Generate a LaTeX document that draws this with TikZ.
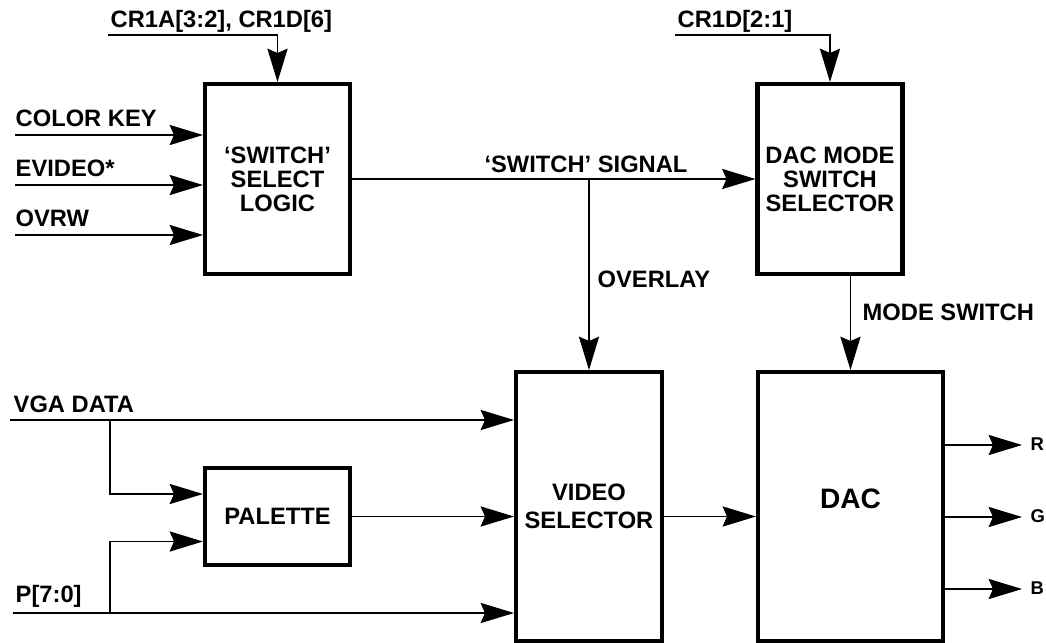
\documentclass[tikz,border=0pt]{standalone}
\usepackage{fontspec}
\setmainfont{Liberation Sans}
\usetikzlibrary{arrows.meta}

\begin{document}
\begin{tikzpicture}[x=.02cm,y=-.02cm,line width=.8pt,font=\fontsize{13.5}{15.5}\selectfont\bfseries,
  blk/.style={draw,line width=2.3pt,align=center,inner sep=0pt,font=\fontsize{13.5}{13.6}\selectfont\bfseries},
  arr/.style={-{Stealth[length=19pt,width=11.5pt,inset=2.5pt]}},
  lbl/.style={anchor=base west,inner sep=0pt}]
\useasboundingbox (0,0) rectangle (1046,643);
\node[blk,minimum width=2.9cm,minimum height=3.8cm] (sw) at (277.5,179) {‘SWITCH’\\SELECT\\LOGIC};
\node[blk,minimum width=2.9cm,minimum height=3.8cm] (dms) at (830,179) {DAC MODE\\SWITCH\\SELECTOR};
\node[blk,minimum width=2.9cm,minimum height=1.94cm] (pal) at (277.5,516.5) {PALETTE};
\node[blk,minimum width=2.92cm,minimum height=5.38cm,font=\fontsize{13.5}{16}\selectfont\bfseries] (vs) at (589,506.5) {VIDEO\\SELECTOR};
\node[blk,minimum width=3.7cm,minimum height=5.38cm,font=\fontsize{16}{19}\selectfont\bfseries] (dac) at (850.5,506.5) {\raisebox{9pt}{DAC}};
\coordinate (cra) at (108,35);
\coordinate (crd) at (675,35);
\coordinate (ck) at (15,135);
\coordinate (ev) at (15,185);
\coordinate (ow) at (15,235);
\coordinate (vga) at (10,420);
\coordinate (pin) at (13,613);
\coordinate (vgab) at (110,420);
\coordinate (pinb) at (110,613);
\coordinate (r) at (1022,445);
\coordinate (g) at (1022,517);
\coordinate (b) at (1022,589);
\draw[arr] (cra) -| (sw.north);
\draw[arr] (crd) -| (dms.north);
\draw[arr] (ck) -- (ck -| sw.west);
\draw[arr] (ev) -- (ev -| sw.west);
\draw[arr] (ow) -- (ow -| sw.west);
\draw[arr] (sw.east) -- (dms.west);
\draw[arr] (sw.east -| vs.north) -- (vs.north);
\draw[arr] (dac.north |- dms.south) -- (dac.north);
\draw[arr] (vga) -- (vga -| vs.west);
\draw[arr] (pin) -- (pin -| vs.west);
\draw[arr] (vgab) |- ([yshift=.45cm]pal.west);
\draw[arr] (pinb) |- ([yshift=-.5cm]pal.west);
\draw[arr] (pal.east) -- (pal.east -| vs.west);
\draw[arr] (pal.east -| vs.east) -- (pal.east -| dac.west);
\draw[arr] (r -| dac.east) -- (r);
\draw[arr] (g -| dac.east) -- (g);
\draw[arr] (b -| dac.east) -- (b);
\node[lbl] (tcra) at (110,27) {CR1A[3:2], CR1D[6]};
\node[lbl] (tcrd) at (677,27) {CR1D[2:1]};
\node[lbl] (tck) at (15,126) {COLOR KEY};
\node[lbl] (tev) at (15,176) {EVIDEO*};
\node[lbl] (tow) at (15,226) {OVRW};
\node[anchor=base,inner sep=0pt] (tsig) at (586,172) {‘SWITCH’ SIGNAL};
\node[lbl] (tov) at (597,287) {OVERLAY};
\node[lbl] (tms) at (862,320) {MODE SWITCH};
\node[lbl] (tvga) at (13,412) {VGA DATA};
\node[lbl] (tpin) at (15,602) {P[7:0]};
\node[lbl,font=\fontsize{10.5}{12}\selectfont\bfseries] (tr) at (1030,450) {R};
\node[lbl,font=\fontsize{10.5}{12}\selectfont\bfseries] (tg) at (1030,522) {G};
\node[lbl,font=\fontsize{10.5}{12}\selectfont\bfseries] (tb) at (1030,594) {B};
\end{tikzpicture}
\end{document}
